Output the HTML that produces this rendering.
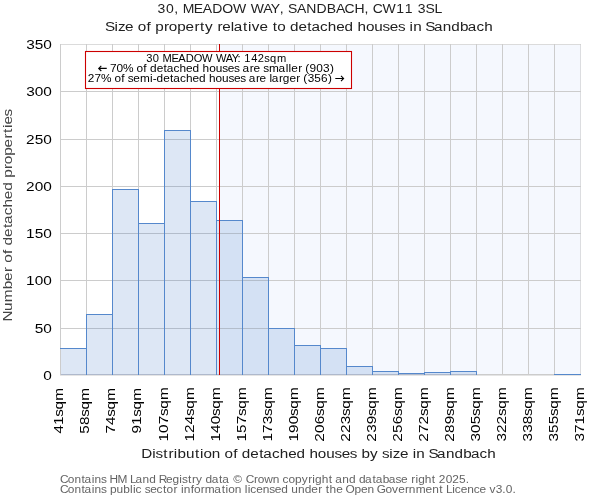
<!DOCTYPE html>
<html><head><meta charset="utf-8"><title>chart</title>
<style>
html,body{margin:0;padding:0;background:#fff;}
body{width:600px;height:500px;overflow:hidden;font-family:"Liberation Sans",sans-serif;}
svg{display:block;will-change:transform;}
</style></head><body>
<svg width="600" height="500" viewBox="0 0 600 500">
<rect x="0" y="0" width="600" height="500" fill="#ffffff"/>
<rect x="220" y="45" width="360.5" height="330" fill="rgba(50,120,230,0.05)" shape-rendering="crispEdges"/>
<g fill="#cccccc" shape-rendering="crispEdges">
<rect x="60" y="44" width="1" height="331"/>
<rect x="86" y="44" width="1" height="331"/>
<rect x="112" y="44" width="1" height="331"/>
<rect x="138" y="44" width="1" height="331"/>
<rect x="164" y="44" width="1" height="331"/>
<rect x="190" y="44" width="1" height="331"/>
<rect x="216" y="44" width="1" height="331"/>
<rect x="242" y="44" width="1" height="331"/>
<rect x="268" y="44" width="1" height="331"/>
<rect x="294" y="44" width="1" height="331"/>
<rect x="320" y="44" width="1" height="331"/>
<rect x="346" y="44" width="1" height="331"/>
<rect x="372" y="44" width="1" height="331"/>
<rect x="398" y="44" width="1" height="331"/>
<rect x="424" y="44" width="1" height="331"/>
<rect x="450" y="44" width="1" height="331"/>
<rect x="476" y="44" width="1" height="331"/>
<rect x="502" y="44" width="1" height="331"/>
<rect x="528" y="44" width="1" height="331"/>
<rect x="554" y="44" width="1" height="331"/>
<rect x="580" y="44" width="1" height="331" opacity="0.6"/>
<rect x="60" y="374" width="521" height="1"/>
<rect x="60" y="328" width="521" height="1"/>
<rect x="60" y="280" width="521" height="1"/>
<rect x="60" y="233" width="521" height="1"/>
<rect x="60" y="186" width="521" height="1"/>
<rect x="60" y="139" width="521" height="1"/>
<rect x="60" y="91" width="521" height="1"/>
<rect x="60" y="44" width="521" height="1" opacity="0.7"/>
<rect x="60" y="375" width="521" height="1" opacity="0.5"/>
</g>
<g shape-rendering="crispEdges">
<rect x="61" y="349" width="25" height="25" fill="rgba(60,120,200,0.175)"/>
<rect x="87" y="315" width="25" height="59" fill="rgba(60,120,200,0.175)"/>
<rect x="113" y="190" width="25" height="184" fill="rgba(60,120,200,0.175)"/>
<rect x="139" y="224" width="25" height="150" fill="rgba(60,120,200,0.175)"/>
<rect x="165" y="131" width="25" height="243" fill="rgba(60,120,200,0.175)"/>
<rect x="191" y="202" width="25" height="172" fill="rgba(60,120,200,0.175)"/>
<rect x="217" y="221" width="25" height="153" fill="rgba(60,120,200,0.175)"/>
<rect x="243" y="278" width="25" height="96" fill="rgba(60,120,200,0.175)"/>
<rect x="269" y="329" width="25" height="45" fill="rgba(60,120,200,0.175)"/>
<rect x="295" y="346" width="25" height="28" fill="rgba(60,120,200,0.175)"/>
<rect x="321" y="349" width="25" height="25" fill="rgba(60,120,200,0.175)"/>
<rect x="347" y="367" width="25" height="7" fill="rgba(60,120,200,0.175)"/>
<rect x="373" y="372" width="25" height="2" fill="rgba(60,120,200,0.175)"/>
<rect x="399" y="374" width="25" height="0" fill="rgba(60,120,200,0.175)"/>
<rect x="425" y="373" width="25" height="1" fill="rgba(60,120,200,0.175)"/>
<rect x="451" y="372" width="25" height="2" fill="rgba(60,120,200,0.175)"/>
<rect x="555" y="375" width="25" height="-1" fill="rgba(60,120,200,0.175)"/>
</g>
<rect x="61" y="374" width="416" height="1" fill="#afb9cc" shape-rendering="crispEdges"/>
<g fill="#5588cc" shape-rendering="crispEdges">
<rect x="60" y="348" width="27" height="1"/>
<rect x="86" y="348" width="1" height="27"/>
<rect x="86" y="314" width="27" height="1"/>
<rect x="86" y="314" width="1" height="61"/>
<rect x="112" y="314" width="1" height="61"/>
<rect x="112" y="189" width="27" height="1"/>
<rect x="112" y="189" width="1" height="186"/>
<rect x="138" y="189" width="1" height="186"/>
<rect x="138" y="223" width="27" height="1"/>
<rect x="138" y="223" width="1" height="152"/>
<rect x="164" y="223" width="1" height="152"/>
<rect x="164" y="130" width="27" height="1"/>
<rect x="164" y="130" width="1" height="245"/>
<rect x="190" y="130" width="1" height="245"/>
<rect x="190" y="201" width="27" height="1"/>
<rect x="190" y="201" width="1" height="174"/>
<rect x="216" y="201" width="1" height="174"/>
<rect x="216" y="220" width="27" height="1"/>
<rect x="216" y="220" width="1" height="155"/>
<rect x="242" y="220" width="1" height="155"/>
<rect x="242" y="277" width="27" height="1"/>
<rect x="242" y="277" width="1" height="98"/>
<rect x="268" y="277" width="1" height="98"/>
<rect x="268" y="328" width="27" height="1"/>
<rect x="268" y="328" width="1" height="47"/>
<rect x="294" y="328" width="1" height="47"/>
<rect x="294" y="345" width="27" height="1"/>
<rect x="294" y="345" width="1" height="30"/>
<rect x="320" y="345" width="1" height="30"/>
<rect x="320" y="348" width="27" height="1"/>
<rect x="320" y="348" width="1" height="27"/>
<rect x="346" y="348" width="1" height="27"/>
<rect x="346" y="366" width="27" height="1"/>
<rect x="346" y="366" width="1" height="9"/>
<rect x="372" y="366" width="1" height="9"/>
<rect x="372" y="371" width="27" height="1"/>
<rect x="372" y="371" width="1" height="4"/>
<rect x="398" y="371" width="1" height="4"/>
<rect x="398" y="373" width="27" height="1"/>
<rect x="398" y="373" width="1" height="2"/>
<rect x="424" y="373" width="1" height="2"/>
<rect x="424" y="372" width="27" height="1"/>
<rect x="424" y="372" width="1" height="3"/>
<rect x="450" y="372" width="1" height="3"/>
<rect x="450" y="371" width="27" height="1"/>
<rect x="450" y="371" width="1" height="4"/>
<rect x="476" y="371" width="1" height="4"/>
<rect x="554" y="374" width="27" height="1"/>
<rect x="554" y="374" width="1" height="1"/>
<rect x="580" y="374" width="1" height="1"/>
</g>
<rect x="219" y="44" width="1" height="331" fill="#cc0000" shape-rendering="crispEdges"/>
<rect x="85.5" y="51.5" width="266" height="37" fill="#ffffff" stroke="#cc0000" stroke-width="1.1"/>
<g font-family="'Liberation Sans', sans-serif">
<text xml:space="preserve" transform="translate(158,13) scale(1.0534,1)" x="-0.59 7.54 15.36 19.38 23.43 34.05 42.51 51.47 61.05 71.30 83.91 88.02 99.87 107.16 115.56 119.57 123.34 131.94 140.74 150.48 160.12 168.90 177.08 186.43 196.10 200.12 203.78 213.17 226.08 234.22 242.06 246.51 253.96 262.52" y="0" font-size="13.3" fill="#202020">30, MEADOW WAY, SANDBACH, CW11 3SL</text>
<text xml:space="preserve" transform="translate(106.7,31) scale(1.1475,1)" x="-1.42 6.84 9.77 16.05 23.34 26.97 34.62 38.40 42.22 49.99 54.06 61.44 68.74 76.43 81.28 85.61 92.42 96.55 100.66 108.11 110.65 118.83 123.18 126.43 133.18 140.46 144.62 148.70 155.99 159.69 167.12 174.83 178.45 185.97 192.70 200.06 207.31 214.80 218.56 225.88 233.17 240.44 246.67 253.78 260.08 263.98 267.13 274.52 277.61 285.15 292.96 300.33 307.91 314.71 322.23 328.96" y="0" font-size="13.3" fill="#202020">Size of property relative to detached houses in Sandbach</text>
<text xml:space="preserve" transform="translate(51.0,380) scale(1.1595,1)" x="-6.63" y="0" font-size="13.3" fill="#000000">0</text>
<text xml:space="preserve" transform="translate(51.0,333) scale(1.1595,1)" x="-14.07 -6.63" y="0" font-size="13.3" fill="#000000">50</text>
<text xml:space="preserve" transform="translate(51.0,285) scale(1.1595,1)" x="-21.50 -14.02 -6.63" y="0" font-size="13.3" fill="#000000">100</text>
<text xml:space="preserve" transform="translate(51.0,238) scale(1.1595,1)" x="-21.50 -14.07 -6.63" y="0" font-size="13.3" fill="#000000">150</text>
<text xml:space="preserve" transform="translate(51.0,191) scale(1.1595,1)" x="-21.57 -14.02 -6.63" y="0" font-size="13.3" fill="#000000">200</text>
<text xml:space="preserve" transform="translate(51.0,144) scale(1.1595,1)" x="-21.57 -14.07 -6.63" y="0" font-size="13.3" fill="#000000">250</text>
<text xml:space="preserve" transform="translate(51.0,96) scale(1.1595,1)" x="-21.40 -14.02 -6.63" y="0" font-size="13.3" fill="#000000">300</text>
<text xml:space="preserve" transform="translate(51.0,49) scale(1.1595,1)" x="-21.40 -14.07 -6.63" y="0" font-size="13.3" fill="#000000">350</text>
<text xml:space="preserve" transform="translate(12,319.8) rotate(-90) scale(1.1562,1)" x="-1.59 7.55 15.14 26.39 33.64 41.28 45.69 49.27 56.88 60.63 64.28 71.65 79.32 82.90 90.36 97.04 104.34 111.55 119.00 122.77 130.49 134.52 141.84 149.09 156.73 161.55 165.87 168.87 175.93" y="0" font-size="13.3" fill="#444444">Number of detached properties</text>
<text xml:space="preserve" transform="translate(63.0,388.9) rotate(-90) scale(1.1489,1)" x="-38.89 -31.50 -24.17 -17.92 -10.23" y="0" font-size="13.3" fill="#000000">41sqm</text>
<text xml:space="preserve" transform="translate(89.0,388.9) rotate(-90) scale(1.1489,1)" x="-38.94 -31.43 -24.17 -17.92 -10.23" y="0" font-size="13.3" fill="#000000">58sqm</text>
<text xml:space="preserve" transform="translate(115.0,388.9) rotate(-90) scale(1.1489,1)" x="-38.92 -31.42 -24.17 -17.92 -10.23" y="0" font-size="13.3" fill="#000000">74sqm</text>
<text xml:space="preserve" transform="translate(141.0,388.9) rotate(-90) scale(1.1489,1)" x="-38.93 -31.50 -24.17 -17.92 -10.23" y="0" font-size="13.3" fill="#000000">91sqm</text>
<text xml:space="preserve" transform="translate(167.8,388.2) rotate(-90) scale(1.1506,1)" x="-46.37 -38.84 -31.41 -24.14 -17.90 -10.22" y="0" font-size="13.3" fill="#000000">107sqm</text>
<text xml:space="preserve" transform="translate(193.8,388.2) rotate(-90) scale(1.1506,1)" x="-46.37 -39.00 -31.38 -24.14 -17.90 -10.22" y="0" font-size="13.3" fill="#000000">124sqm</text>
<text xml:space="preserve" transform="translate(219.8,388.2) rotate(-90) scale(1.1506,1)" x="-46.37 -38.84 -31.39 -24.14 -17.90 -10.22" y="0" font-size="13.3" fill="#000000">140sqm</text>
<text xml:space="preserve" transform="translate(245.8,388.2) rotate(-90) scale(1.1506,1)" x="-46.37 -38.89 -31.41 -24.14 -17.90 -10.22" y="0" font-size="13.3" fill="#000000">157sqm</text>
<text xml:space="preserve" transform="translate(271.8,388.2) rotate(-90) scale(1.1506,1)" x="-46.37 -38.86 -31.37 -24.14 -17.90 -10.22" y="0" font-size="13.3" fill="#000000">173sqm</text>
<text xml:space="preserve" transform="translate(297.8,388.2) rotate(-90) scale(1.1506,1)" x="-46.37 -38.88 -31.39 -24.14 -17.90 -10.22" y="0" font-size="13.3" fill="#000000">190sqm</text>
<text xml:space="preserve" transform="translate(323.8,388.2) rotate(-90) scale(1.1506,1)" x="-46.45 -38.84 -31.39 -24.14 -17.90 -10.22" y="0" font-size="13.3" fill="#000000">206sqm</text>
<text xml:space="preserve" transform="translate(349.8,388.2) rotate(-90) scale(1.1506,1)" x="-46.45 -39.00 -31.37 -24.14 -17.90 -10.22" y="0" font-size="13.3" fill="#000000">223sqm</text>
<text xml:space="preserve" transform="translate(375.8,388.2) rotate(-90) scale(1.1506,1)" x="-46.45 -38.82 -31.42 -24.14 -17.90 -10.22" y="0" font-size="13.3" fill="#000000">239sqm</text>
<text xml:space="preserve" transform="translate(401.8,388.2) rotate(-90) scale(1.1506,1)" x="-46.45 -38.89 -31.39 -24.14 -17.90 -10.22" y="0" font-size="13.3" fill="#000000">256sqm</text>
<text xml:space="preserve" transform="translate(427.8,388.2) rotate(-90) scale(1.1506,1)" x="-46.45 -38.86 -31.54 -24.14 -17.90 -10.22" y="0" font-size="13.3" fill="#000000">272sqm</text>
<text xml:space="preserve" transform="translate(453.8,388.2) rotate(-90) scale(1.1506,1)" x="-46.45 -38.84 -31.42 -24.14 -17.90 -10.22" y="0" font-size="13.3" fill="#000000">289sqm</text>
<text xml:space="preserve" transform="translate(479.8,388.2) rotate(-90) scale(1.1506,1)" x="-46.28 -38.84 -31.43 -24.14 -17.90 -10.22" y="0" font-size="13.3" fill="#000000">305sqm</text>
<text xml:space="preserve" transform="translate(505.8,388.2) rotate(-90) scale(1.1506,1)" x="-46.28 -39.00 -31.54 -24.14 -17.90 -10.22" y="0" font-size="13.3" fill="#000000">322sqm</text>
<text xml:space="preserve" transform="translate(531.8,388.2) rotate(-90) scale(1.1506,1)" x="-46.28 -38.82 -31.39 -24.14 -17.90 -10.22" y="0" font-size="13.3" fill="#000000">338sqm</text>
<text xml:space="preserve" transform="translate(557.8,388.2) rotate(-90) scale(1.1506,1)" x="-46.28 -38.89 -31.43 -24.14 -17.90 -10.22" y="0" font-size="13.3" fill="#000000">355sqm</text>
<text xml:space="preserve" transform="translate(583.8,388.2) rotate(-90) scale(1.1506,1)" x="-46.28 -38.86 -31.46 -24.14 -17.90 -10.22" y="0" font-size="13.3" fill="#000000">371sqm</text>
<text xml:space="preserve" transform="translate(143,457.5) scale(1.1459,1)" x="-1.43 8.07 11.00 17.72 22.32 26.91 30.12 37.49 45.36 49.71 52.72 60.07 67.47 71.11 78.77 82.55 86.26 93.70 101.42 105.05 112.57 119.32 126.68 133.95 141.44 145.21 152.54 159.84 167.11 173.36 180.48 186.78 190.62 198.14 204.95 208.51 214.98 217.91 224.20 231.50 235.40 238.56 245.96 249.06 256.61 264.43 271.80 279.40 286.21 293.73 300.47" y="0" font-size="13.3" fill="#202020">Distribution of detached houses by size in Sandbach</text>
<text xml:space="preserve" transform="translate(61.2,483) scale(1.1021,1)" x="-1.17 6.03 11.98 18.32 21.26 27.69 30.24 36.10 41.21 43.91 51.01 59.62 62.48 67.49 73.83 79.80 85.88 88.45 95.05 100.93 107.14 109.51 114.96 118.68 122.39 127.91 130.91 136.52 143.16 146.10 152.40 156.21 164.95 167.35 174.96 178.25 184.16 192.00 198.00 200.83 206.18 212.16 218.26 224.10 227.82 230.31 236.41 242.77 246.16 248.73 255.07 261.04 267.12 270.12 275.73 282.37 285.31 291.67 297.19 303.34 308.40 314.31 317.67 321.39 323.88 329.97 336.33 339.73 342.66 348.84 354.78 360.93 367.01" y="0" font-size="10.8" fill="#646464">Contains HM Land Registry data © Crown copyright and database right 2025.</text>
<text xml:space="preserve" transform="translate(61.2,492.6) scale(1.1035,1)" x="-1.17 6.02 11.96 18.30 21.23 27.65 30.20 36.05 41.16 44.25 50.21 56.32 62.41 65.06 67.38 72.81 75.69 80.74 86.44 92.22 95.52 101.75 105.34 108.50 111.05 117.33 120.30 126.54 130.12 138.77 145.40 148.92 151.35 157.29 163.29 166.43 169.08 171.40 176.78 182.72 188.57 193.62 199.50 205.57 208.59 214.66 220.62 226.64 232.87 236.46 239.82 243.23 249.19 255.10 257.68 265.69 271.60 277.54 283.54 286.06 293.85 299.88 305.34 311.57 315.03 321.19 330.24 336.18 342.52 345.91 348.76 354.36 356.68 362.05 368.00 373.79 379.17 385.08 388.22 393.78 399.80 402.84 408.88" y="0" font-size="10.8" fill="#646464">Contains public sector information licensed under the Open Government Licence v3.0.</text>
<text xml:space="preserve" transform="translate(146.7,62) scale(1.0299,1)" x="-0.51 6.00 12.27 15.45 23.97 30.75 37.93 45.60 53.80 63.97 67.20 76.71 82.56 88.16 91.38 94.84 101.42 107.81 114.26 119.74 126.59" y="0" font-size="10.8" fill="#000000">30 MEADOW WAY: 142sqm</text>
<text xml:space="preserve" transform="translate(110.75,72) scale(1.0997,1)" x="-0.77 5.32 11.10 20.44 23.39 29.61 32.68 35.69 41.73 47.99 50.94 57.05 62.52 68.50 74.40 80.48 83.54 89.48 95.41 101.32 106.39 112.16 117.28 119.86 126.50 129.84 135.76 138.65 143.94 152.61 159.05 161.70 164.18 170.43 174.02 176.85 180.79 186.89 192.98 199.35" y="0" font-size="10.8" fill="#000000">70% of detached houses are smaller (903)</text>
<text xml:space="preserve" transform="translate(88.7,82) scale(1.0941,1)" x="-0.79 5.39 11.19 20.53 23.49 29.71 32.77 35.67 40.74 46.84 56.10 58.54 62.04 68.08 74.35 77.29 83.41 88.88 94.86 100.76 106.84 109.91 115.85 121.78 127.69 132.76 138.54 143.66 146.24 152.88 156.22 162.14 165.30 167.38 174.01 177.42 183.46 189.71 193.31 196.13 200.12 206.14 212.25 218.64" y="0" font-size="10.8" fill="#000000">27% of semi-detached houses are larger (356)</text>
</g>
<g fill="none" stroke="#000000" stroke-width="1.1" stroke-linecap="butt" stroke-linejoin="miter">
<path d="M106.75 68.4H98.9M101.3 65.8L98.7 68.4L101.3 71"/>
<path d="M335.3 78.45H343.6M341 75.85L343.6 78.45L341 81.05"/>
</g>
</svg>
</body></html>
